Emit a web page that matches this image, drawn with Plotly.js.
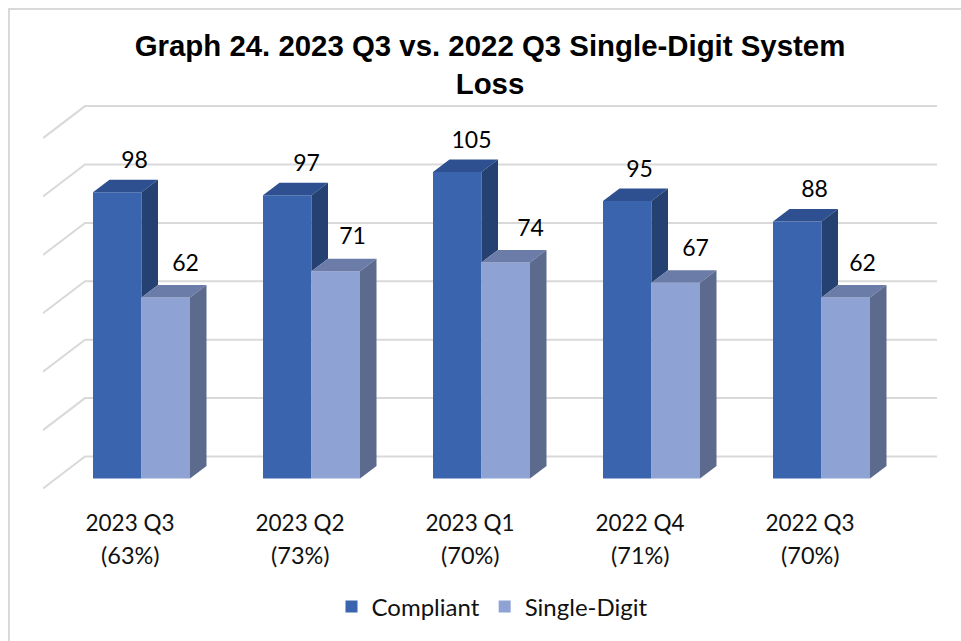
<!DOCTYPE html>
<html>
<head>
<meta charset="utf-8">
<script src="https://cdn.plot.ly/plotly-3.0.1.min.js"></script>
<style>html,body{margin:0;padding:0;background:#fff}#chart{width:961px;height:641px}</style>
</head>
<body>
<div id="chart"></div>
<script>
// ---- data ----
const categories = ['2023 Q3', '2023 Q2', '2023 Q1', '2022 Q4', '2022 Q3'];
const shares = ['(63%)', '(73%)', '(70%)', '(71%)', '(70%)'];
const compliant = [98, 97, 105, 95, 88];
const singleDigit = [62, 71, 74, 67, 62];
const gridValues = [0, 20, 40, 60, 80, 100, 120];

// ---- geometry (axis units) ----
const PX_X = 170, PX_Y = 2.92;
const BASE_PX = 478.5, CENTER_PX = 141.5;
const barW = 48.5 / PX_X, depthX = 16.5 / PX_X, depthY = 12.5 / PX_Y;
const wallLift = 22 / PX_Y, wallFrontDrop = 32 / PX_Y;
const wallX0 = (43 - CENTER_PX) / PX_X, wallX1 = (85 - CENTER_PX) / PX_X, wallX2 = (937 - CENTER_PX) / PX_X;
const labelDxC = [-7, -5, -10, -12, -7].map(v => v / PX_X);
const labelDxS = [44, 41, 49, 44, 41].map(v => v / PX_X);
const labelLift = 30 / PX_Y, labelLiftS = 32.5 / PX_Y;
const tickShift = (130 - CENTER_PX) / PX_X;

const idx = categories.map((_, i) => i);

function polys(fn) {
  const xs = [], ys = [];
  idx.forEach(i => {
    fn(i).forEach(p => { xs.push(p[0]); ys.push(p[1]); });
    xs.push(null); ys.push(null);
  });
  return {x: xs, y: ys};
}
function face(p, color) {
  return {type: 'scatter', mode: 'lines', x: p.x, y: p.y, fill: 'toself', fillcolor: color,
          line: {width: 0, color: color}, hoverinfo: 'skip', showlegend: false};
}

const blueTop = polys(i => {
  const l = i - barW, r = i, t = compliant[i];
  return [[l, t], [r, t], [r + depthX, t + depthY], [l + depthX, t + depthY]];
});
const blueSide = polys(i => {
  const r = i, t = compliant[i], b = singleDigit[i];
  return [[r, t], [r + depthX, t + depthY], [r + depthX, b + depthY], [r, b]];
});
const lightTop = polys(i => {
  const l = i, r = i + barW, t = singleDigit[i];
  return [[l, t], [r, t], [r + depthX, t + depthY], [l + depthX, t + depthY]];
});
const lightSide = polys(i => {
  const r = i + barW, t = singleDigit[i];
  return [[r, t], [r + depthX, t + depthY], [r + depthX, depthY], [r, 0]];
});

const BODY = 'Lato, Carlito, sans-serif';
const traces = [
  {type: 'bar', name: 'Compliant', x: idx.map(i => i - barW / 2), y: compliant, width: barW,
   marker: {color: '#3A64AD', line: {width: 0}}, hoverinfo: 'y'},
  {type: 'bar', name: 'Single-Digit', x: idx.map(i => i + barW / 2), y: singleDigit, width: barW,
   marker: {color: '#8FA2D4', line: {width: 0}}, hoverinfo: 'y'},
  face(blueTop, '#2E5090'),
  face(blueSide, '#254172'),
  face(lightTop, '#6B7CA8'),
  face(lightSide, '#5C6A8E'),
  {type: 'scatter', mode: 'text', x: idx.map(i => i + labelDxC[i]), y: compliant.map(v => v + labelLift),
   text: compliant.map(String), textposition: 'middle center', cliponaxis: false,
   textfont: {family: BODY, size: 23, color: '#000'}, hoverinfo: 'skip', showlegend: false},
  {type: 'scatter', mode: 'text', x: idx.map(i => i + labelDxS[i]), y: singleDigit.map(v => v + labelLiftS),
   text: singleDigit.map(String), textposition: 'middle center', cliponaxis: false,
   textfont: {family: BODY, size: 23, color: '#000'}, hoverinfo: 'skip', showlegend: false}
];

const gridShapes = gridValues.map(g => ({
  type: 'path', layer: 'below', xref: 'x', yref: 'y',
  path: `M ${wallX0} ${g + wallLift - wallFrontDrop} L ${wallX1} ${g + wallLift} L ${wallX2} ${g + wallLift}`,
  line: {color: '#D9D9D9', width: 2}
}));

const shareNotes = idx.map(i => ({
  xref: 'x', yref: 'paper', x: i + tickShift, y: -(554.5 - 490) / 390, yanchor: 'middle', xanchor: 'center',
  text: shares[i], showarrow: false, font: {family: BODY, size: 23.5, color: '#111'}
}));

const layout = {
  width: 961, height: 641,
  margin: {l: 43, r: 24, t: 100, b: 151, pad: 0},
  paper_bgcolor: '#fff', plot_bgcolor: 'rgba(0,0,0,0)',
  title: {text: 'Graph 24. 2023 Q3 vs. 2022 Q3 Single-Digit System<br>Loss',
          font: {family: 'Liberation Sans, Arial, sans-serif', size: 29.4, color: '#000', weight: 700},
          x: 490 / 961, xanchor: 'center', xref: 'container', y: 1 - 55.5 / 641, yanchor: 'middle'},
  barmode: 'overlay',
  xaxis: {range: [wallX0, wallX2], tickmode: 'array', tickvals: idx.map(i => i + tickShift), ticktext: categories,
          showgrid: false, zeroline: false, showline: false, ticks: 'outside', ticklen: 13, tickcolor: 'rgba(0,0,0,0)',
          tickfont: {family: BODY, size: 22.5, color: '#111'}},
  yaxis: {range: [(BASE_PX - 490) / PX_Y, (BASE_PX - 100) / PX_Y], showgrid: false, zeroline: false, showline: false,
          showticklabels: false, ticks: ''},
  legend: {orientation: 'h', x: (492 - 43) / 894, xanchor: 'center', y: -(607 - 490) / 390, yanchor: 'middle',
           font: {family: BODY, size: 24, color: '#111'}, traceorder: 'normal'},
  shapes: gridShapes.concat([{type: 'path', layer: 'below', xref: 'paper', yref: 'paper',
    path: `M ${(9 - 43) / 894} ${(490 - 641) / 390} L ${(9 - 43) / 894} ${(490 - 9) / 390} L ${(961 - 43) / 894} ${(490 - 9) / 390}`,
    line: {color: '#D9D9D9', width: 2}}]),
  annotations: shareNotes,
  showlegend: true
};
Plotly.newPlot('chart', traces, layout, {displayModeBar: false, responsive: false});
</script>
</body>
</html>
